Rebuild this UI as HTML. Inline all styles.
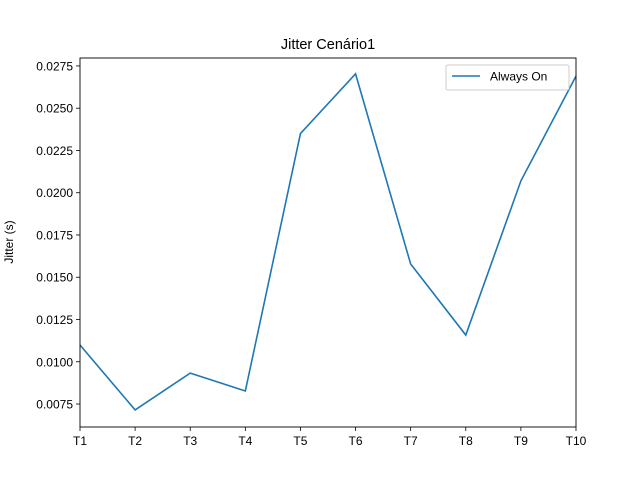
<!DOCTYPE html>
<html><head><meta charset="utf-8"><style>
body{margin:0;background:#fff;}
svg{display:block;font-family:"Liberation Sans","DejaVu Sans",sans-serif;}
</style></head><body>
<svg id="chart" width="640" height="480">
<rect width="640" height="480" fill="#fff"/>
<text x="328" y="49" font-size="14.5" text-anchor="middle">Jitter Cenário1</text>
<text transform="translate(13,242) rotate(-90)" font-size="12" text-anchor="middle">Jitter (s)</text>
<g id="ticks"></g>
<polyline id="line" fill="none" stroke="#1f77b4" stroke-width="1.6"/>
<rect x="80" y="58" width="496" height="369" fill="none" stroke="#000" stroke-width="0.9"/>
<g>
<rect x="446" y="65" width="123" height="25" rx="2" fill="#fff" stroke="#ccc"/>
<line x1="452" y1="76" x2="480" y2="76" stroke="#1f77b4" stroke-width="1.6"/>
<text x="490" y="80.5" font-size="12">Always On</text>
</g>
</svg>
<script>
const categories=["T1","T2","T3","T4","T5","T6","T7","T8","T9","T10"];
const jitterValues=[0.01099,0.00715,0.00933,0.00827,0.0235,0.02703,0.01578,0.01158,0.0207,0.0269];
const yTicks=[0.0075,0.0100,0.0125,0.0150,0.0175,0.0200,0.0225,0.0250,0.0275];
const yMin=0.00614,yMax=0.02797;
const L=80,R=576,T=58,B=427;
const xs=i=>L+(R-L)*i/(categories.length-1);
const ys=v=>B-(v-yMin)/(yMax-yMin)*(B-T);
const NS="http://www.w3.org/2000/svg";
const g=document.getElementById('ticks');
function mk(tag,attrs){const e=document.createElementNS(NS,tag);for(const k in attrs)e.setAttribute(k,attrs[k]);return e;}
categories.forEach((c,i)=>{
 const x=xs(i);
 const t=mk('line',{x1:x,x2:x,y1:B,y2:B+4,stroke:'#000','stroke-width':0.8});
 
 
 g.appendChild(t);
 const l=mk('text',{x:x,y:B+18,'font-size':12,'text-anchor':'middle'});
 l.textContent=c;
 
 
 g.appendChild(l);
});
yTicks.forEach(v=>{
 const y=ys(v);
 const t=mk('line',{x1:L-4,x2:L,y1:y,y2:y,stroke:'#000','stroke-width':0.8});
 
 
 g.appendChild(t);
 const l=mk('text',{x:L-7,y:y+4.5,'font-size':12,'text-anchor':'end'});
 l.textContent=v.toFixed(4);
 
 
 g.appendChild(l);
});
document.getElementById('line').setAttribute('points',jitterValues.map((v,i)=>xs(i)+','+ys(v)).join(' '));
</script>
</body></html>
